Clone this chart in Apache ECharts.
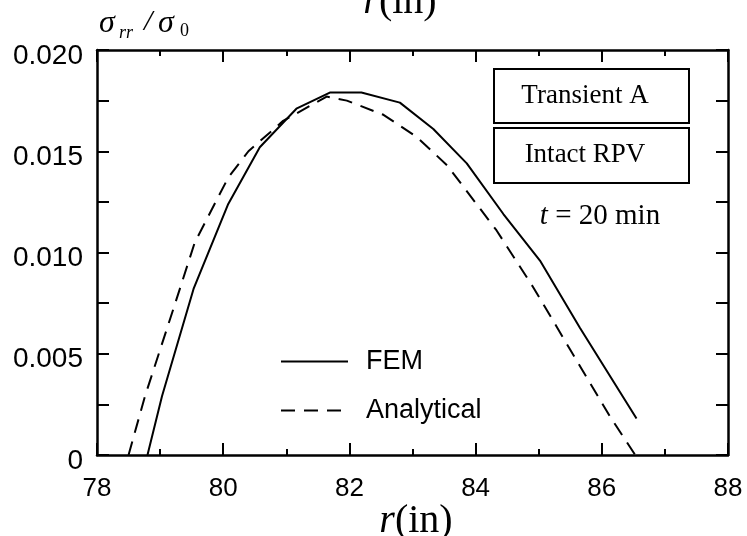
<!DOCTYPE html>
<html>
<head>
<meta charset="utf-8">
<script src="https://cdn.jsdelivr.net/npm/echarts@6/dist/echarts.min.js"></script>
<style>
  html, body { margin: 0; padding: 0; background: #fff; }
  #chart { width: 747px; height: 536px; }
</style>
</head>
<body>
<div id="chart"></div>
<script>
  // r (in) vs sigma_rr / sigma_0
  const femR = [78.80, 79.03, 79.53, 80.08, 80.58, 81.16, 81.69, 82.19, 82.80, 83.33, 83.86, 84.44, 85.02, 85.65, 86.55];
  const femS = [0, 0.0029, 0.0082, 0.0124, 0.0152, 0.0171, 0.0179, 0.0179, 0.0174, 0.0161, 0.0144, 0.0119, 0.0096, 0.0063, 0.0018];
  const anaR = [78.50, 78.76, 79.24, 79.55, 80.08, 80.40, 80.95, 81.64, 81.96, 82.54, 83.07, 83.55, 84.33, 84.91, 85.50, 86.13, 86.53];
  const anaS = [0, 0.0029, 0.0075, 0.0105, 0.0137, 0.0150, 0.0165, 0.0177, 0.0175, 0.0168, 0.0157, 0.0143, 0.0111, 0.0083, 0.0052, 0.0019, 0];
  const seriesNames = ['FEM', 'Analytical'];
  const boxLabels = ['Transient A', 'Intact RPV'];

  const pairs = (xs, ys) => xs.map((x, i) => [x, ys[i]]);
  const sans = 'Liberation Sans, Arial, sans-serif';
  const serif = 'Liberation Serif, Times New Roman, serif';

  const axisLine = { show: true, onZero: false, lineStyle: { color: '#000', width: 2.5 } };
  const xCommon = {
    type: 'value', min: 78, max: 88, interval: 2,
    axisLine: axisLine,
    axisTick: { inside: true, length: 12, lineStyle: { color: '#000', width: 2 } },
    minorTick: { show: true, splitNumber: 2, length: 6, lineStyle: { color: '#000', width: 2 } },
    splitLine: { show: false },
  };
  const yCommon = {
    type: 'value', min: 0, max: 0.02, interval: 0.005,
    axisLine: axisLine,
    axisTick: { inside: true, length: 12, lineStyle: { color: '#000', width: 2 } },
    minorTick: { show: true, splitNumber: 2, length: 12, lineStyle: { color: '#000', width: 2 } },
    splitLine: { show: false },
  };

  const chart = echarts.init(document.getElementById('chart'), null, { renderer: 'canvas' });
  chart.setOption({
    animation: false,
    backgroundColor: '#fff',
    grid: { left: 97, right: 19, top: 50, bottom: 81 },
    xAxis: [
      Object.assign({}, xCommon, {
        position: 'bottom',
        axisLabel: { color: '#000', fontSize: 26, fontFamily: sans, margin: 21 },
      }),
      Object.assign({}, xCommon, { position: 'top', axisLabel: { show: false } }),
    ],
    yAxis: [
      Object.assign({}, yCommon, {
        position: 'left',
        axisLabel: {
          color: '#000', fontSize: 28, fontFamily: sans, margin: 14,
          verticalAlign: 'top', lineHeight: 12,
          formatter: v => (v === 0 ? '0' : v.toFixed(3)),
        },
      }),
      Object.assign({}, yCommon, { position: 'right', axisLabel: { show: false } }),
    ],
    legend: {
      data: seriesNames,
      orient: 'vertical',
      left: 275, top: 343,
      itemWidth: 67, itemHeight: 14, itemGap: 22,
      itemStyle: { opacity: 0 },
      textStyle: { color: '#000', fontSize: 27, fontFamily: sans, padding: [0, 0, 0, 13] },
    },
    series: [
      {
        name: seriesNames[0], type: 'line', data: pairs(femR, femS),
        symbol: 'none', lineStyle: { color: '#000', width: 2 }, itemStyle: { color: '#000' },
      },
      {
        name: seriesNames[1], type: 'line', data: pairs(anaR, anaS),
        symbol: 'none', lineStyle: { color: '#000', width: 2, type: [14, 9] }, itemStyle: { color: '#000' },
      },
    ],
    graphic: [
      // boxed labels
      { type: 'rect', left: 493, top: 68, shape: { width: 195, height: 54 }, style: { fill: '#fff', stroke: '#000', lineWidth: 2 } },
      { type: 'rect', left: 493, top: 127, shape: { width: 195, height: 55 }, style: { fill: '#fff', stroke: '#000', lineWidth: 2 } },
      { type: 'text', x: 585, y: 96, style: { text: boxLabels[0], font: '27px ' + serif, fill: '#000', align: 'center', verticalAlign: 'middle' } },
      { type: 'text', x: 585, y: 155, style: { text: boxLabels[1], font: '27px ' + serif, fill: '#000', align: 'center', verticalAlign: 'middle' } },
      {
        type: 'text', x: 600, y: 216,
        style: {
          text: '{i|t}{n| = 20 min}', align: 'center', verticalAlign: 'middle',
          rich: {
            i: { font: 'italic 29px ' + serif, fill: '#000' },
            n: { font: '29px ' + serif, fill: '#000' },
          },
        },
      },
      // y-axis title
      { type: 'text', x: 99, y: 24, style: { text: 'σ', font: 'italic 32px ' + serif, fill: '#000', verticalAlign: 'middle' } },
      { type: 'text', x: 119, y: 33, style: { text: 'rr', font: 'italic 18px ' + serif, fill: '#000', verticalAlign: 'middle' } },
      { type: 'text', x: 144, y: 22, style: { text: '/', font: 'italic 30px ' + serif, fill: '#000', verticalAlign: 'middle' } },
      { type: 'text', x: 158, y: 24, style: { text: 'σ', font: 'italic 32px ' + serif, fill: '#000', verticalAlign: 'middle' } },
      { type: 'text', x: 180, y: 31, style: { text: '0', font: '18px ' + serif, fill: '#000', verticalAlign: 'middle' } },
      // x-axis title (bottom) and the clipped one at the top
      {
        type: 'text', x: 416, y: 541,
        style: {
          text: '{i|r}{n|(in)}', align: 'center', verticalAlign: 'bottom',
          rich: {
            i: { font: 'italic 40px ' + serif, fill: '#000' },
            n: { font: '40px ' + serif, fill: '#000' },
          },
        },
      },
      {
        type: 'text', x: 400, y: 22,
        style: {
          text: '{i|r}{n|(in)}', align: 'center', verticalAlign: 'bottom',
          rich: {
            i: { font: 'italic 40px ' + serif, fill: '#000' },
            n: { font: '40px ' + serif, fill: '#000' },
          },
        },
      },
    ],
  });
</script>
</body>
</html>
